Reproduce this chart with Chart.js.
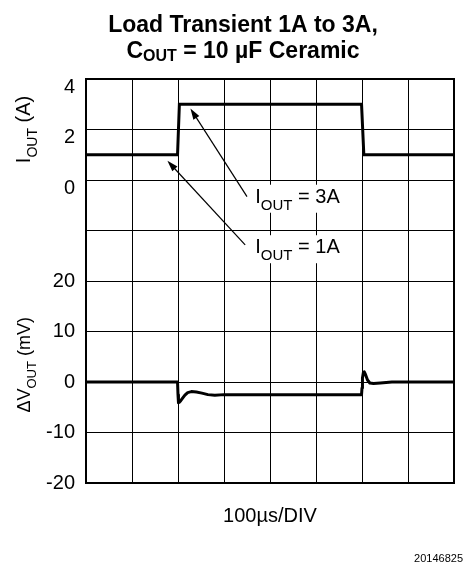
<!DOCTYPE html>
<html>
<head>
<meta charset="utf-8">
<script src="https://cdn.jsdelivr.net/npm/chart.js@4.4.1/dist/chart.umd.min.js"></script>
<style>
  html, body { margin: 0; padding: 0; background: #fff; }
  canvas { display: block; }
</style>
</head>
<body>
<canvas id="transientChart" width="475" height="565"></canvas>
<script>
// time axis in µs, 100µs per division
const timeRange = [0, 800];
const timeStep = 100;

// load current step (A)
const currentTime = [0, 199, 203, 599, 604, 800];
const currentAmps = [1, 1, 3, 3, 1, 1];

// output voltage deviation (mV)
const voltageTime = [0, 199, 200, 201, 203, 206, 210, 215, 221, 229, 240, 252, 265, 280, 300,
                     599, 600, 601, 603, 605, 608, 612, 617, 625, 640, 665, 800];
const voltageMv = [0, 0, -2.5, -4.1, -4.0, -3.7, -3.2, -2.6, -2.1, -1.9, -2.0, -2.2, -2.5, -2.6, -2.5,
                   -2.5, -1.2, 0.8, 1.9, 2.0, 1.4, 0.4, -0.2, -0.3, -0.2, 0, 0];

// labelled ticks on the two stacked y axes
const ampTicks = [0, 2, 4];
const mvTicks = [-20, -10, 0, 10, 20];

// callouts, [µs, A] on the current axis
const noteText = ['3A', '1A'];
const noteAt = [[368, -0.9], [368, -2.9]];
const noteFrom = [[350, -0.66], [346, -2.57]];
const noteTo = [[227, 2.83], [177, 0.76]];

const FONT = '"Liberation Sans", Arial, Helvetica, sans-serif';
const fontOf = p => (p.bold ? 'bold ' : '') + p.size + 'px ' + FONT;

// draws a run of text pieces, some of them subscripts (dy pushes them down)
const drawRich = (ctx, parts, x, y, align) => {
    let width = 0;
    parts.forEach(p => {
        ctx.font = fontOf(p);
        p.w = ctx.measureText(p.text).width;
        width += p.w;
    });
    let cx = align === 'center' ? x - width / 2 : x;
    ctx.textAlign = 'left';
    ctx.textBaseline = 'alphabetic';
    parts.forEach(p => {
        ctx.font = fontOf(p);
        ctx.fillText(p.text, cx, y + (p.dy || 0));
        cx += p.w;
    });
    return width;
};

const drawArrow = (ctx, x0, y0, x1, y1) => {
    const ang = Math.atan2(y1 - y0, x1 - x0);
    const len = 11, half = 3.5;
    ctx.beginPath();
    ctx.moveTo(x0, y0);
    ctx.lineTo(x1 - Math.cos(ang) * len * 0.8, y1 - Math.sin(ang) * len * 0.8);
    ctx.lineWidth = 1.2;
    ctx.stroke();
    ctx.beginPath();
    ctx.moveTo(x1, y1);
    ctx.lineTo(x1 - Math.cos(ang) * len - Math.sin(ang) * half, y1 - Math.sin(ang) * len + Math.cos(ang) * half);
    ctx.lineTo(x1 - Math.cos(ang) * len + Math.sin(ang) * half, y1 - Math.sin(ang) * len - Math.cos(ang) * half);
    ctx.closePath();
    ctx.fill();
};

const framePlugin = {
    id: 'frame',
    beforeDatasetsDraw(chart) {
        const { ctx, chartArea: a } = chart;
        ctx.save();
        ctx.strokeStyle = '#000';
        ctx.lineWidth = 2;
        ctx.strokeRect(a.left, a.top, a.right - a.left, a.bottom - a.top);
        ctx.restore();
    }
};

const textPlugin = {
    id: 'texts',
    afterDatasetsDraw(chart) {
        const { ctx } = chart;
        const x = chart.scales.x, yA = chart.scales.yA, yV = chart.scales.yV;
        ctx.save();
        ctx.fillStyle = '#000';
        ctx.strokeStyle = '#000';

        // callouts
        noteText.forEach((t, i) => {
            const tx = x.getPixelForValue(noteAt[i][0]);
            const ty = yA.getPixelForValue(noteAt[i][1]);
            const parts = [
                { text: 'I', size: 20 },
                { text: 'OUT', size: 15, dy: 7 },
                { text: ' = ' + t, size: 20 }
            ];
            let w = 0;
            parts.forEach(p => { ctx.font = fontOf(p); w += ctx.measureText(p.text).width; });
            ctx.fillStyle = '#fff';
            ctx.fillRect(tx - 3, ty - 18, w + 6, 28);
            ctx.fillStyle = '#000';
            drawRich(ctx, parts, tx, ty, 'left');
            drawArrow(ctx,
                x.getPixelForValue(noteFrom[i][0]), yA.getPixelForValue(noteFrom[i][1]),
                x.getPixelForValue(noteTo[i][0]), yA.getPixelForValue(noteTo[i][1]));
        });

        // chart title
        drawRich(ctx, [{ text: 'Load Transient 1A to 3A,', size: 23, bold: true }], 243, 32, 'center');
        drawRich(ctx, [
            { text: 'C', size: 23, bold: true },
            { text: 'OUT', size: 16, bold: true, dy: 3 },
            { text: ' = 10 µF Ceramic', size: 23, bold: true }
        ], 243, 58, 'center');

        // rotated axis titles
        ctx.save();
        ctx.translate(30, yA.getPixelForValue(2));
        ctx.rotate(-Math.PI / 2);
        drawRich(ctx, [
            { text: 'I', size: 20 },
            { text: 'OUT', size: 14, dy: 7 },
            { text: ' (A)', size: 20 }
        ], 0, 0, 'center');
        ctx.restore();

        ctx.save();
        ctx.translate(30, yV.getPixelForValue(3.4));
        ctx.rotate(-Math.PI / 2);
        drawRich(ctx, [
            { text: 'ΔV', size: 18 },
            { text: 'OUT', size: 13, dy: 6 },
            { text: ' (mV)', size: 18 }
        ], 0, 0, 'center');
        ctx.restore();

        // figure number
        ctx.font = '11px ' + FONT;
        ctx.textAlign = 'right';
        ctx.fillText('20146825', 463, 562);
        ctx.restore();
    }
};

const gridOpts = { color: '#000', lineWidth: 1, drawTicks: false };
const tickFont = { family: FONT, size: 20 };

new Chart(document.getElementById('transientChart'), {
    type: 'line',
    data: {
        datasets: [
            {
                label: 'IOUT',
                data: currentTime.map((t, i) => ({ x: t, y: currentAmps[i] })),
                yAxisID: 'yA',
                borderColor: '#000',
                borderWidth: 3,
                pointRadius: 0,
                tension: 0
            },
            {
                label: 'ΔVOUT',
                data: voltageTime.map((t, i) => ({ x: t, y: voltageMv[i] })),
                yAxisID: 'yV',
                borderColor: '#000',
                borderWidth: 3,
                borderJoinStyle: 'round',
                pointRadius: 0,
                tension: 0
            }
        ]
    },
    options: {
        responsive: false,
        animation: false,
        layout: { padding: { top: 79, right: 21, left: 0, bottom: 0 } },
        plugins: { legend: { display: false }, tooltip: { enabled: false } },
        scales: {
            x: {
                type: 'linear',
                min: timeRange[0],
                max: timeRange[1],
                ticks: { stepSize: timeStep, display: false },
                grid: gridOpts,
                border: { color: '#000', width: 2 },
                title: {
                    display: true,
                    text: '100µs/DIV',
                    color: '#000',
                    font: { family: FONT, size: 20 },
                    padding: { top: 0, bottom: 37 }
                },
                afterFit(s) { s.height = 82; }
            },
            yV: {
                type: 'linear',
                position: 'left',
                stack: 'left',
                stackWeight: 5,
                min: -20,
                max: 30,
                ticks: {
                    stepSize: 10,
                    color: '#000',
                    font: tickFont,
                    padding: 11,
                    callback: v => (mvTicks.includes(v) ? v : '')
                },
                grid: gridOpts,
                border: { color: '#000', width: 2 },
                afterFit(s) { s.width = 86; }
            },
            yA: {
                type: 'linear',
                position: 'left',
                stack: 'left',
                stackWeight: 3,
                min: -2,
                max: 4,
                ticks: {
                    stepSize: 2,
                    color: '#000',
                    font: tickFont,
                    padding: 11,
                    labelOffset: 8,
                    callback: v => (ampTicks.includes(v) ? v : '')
                },
                grid: gridOpts,
                border: { color: '#000', width: 2 },
                afterFit(s) { s.width = 86; }
            }
        }
    },
    plugins: [framePlugin, textPlugin]
});
</script>
</body>
</html>
